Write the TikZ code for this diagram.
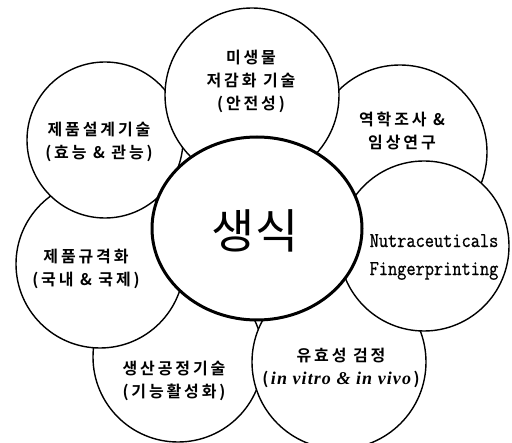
\documentclass[tikz,border=0pt]{standalone}
\usepackage{fontspec}
\usetikzlibrary{shapes.geometric}
\newfontfamily\krb[LetterSpace=18,BoldFont={Noto Sans CJK KR Bold}]{Noto Sans CJK KR}
\newfontfamily\krc{Noto Sans CJK KR}
\newfontfamily\nutra[FakeStretch=0.85,FakeBold=0.8]{Latin Modern Mono}
\newfontfamily\itl[LetterSpace=6]{Liberation Serif}
\begin{document}
\begin{tikzpicture}[x=1pt,y=-1pt,
  petal/.style={circle, draw, fill=white, line width=1.4pt, inner sep=0pt, minimum size=#1},
  core/.style={ellipse, draw, fill=white, line width=3pt, inner sep=0pt},
  lbl/.style={align=center, inner sep=0pt, font=\krb\bfseries\fontsize{16}{23}\selectfont},
  nlbl/.style={align=center, inner sep=0pt, font=\nutra\fontsize{21}{28}\selectfont}]
\useasboundingbox (0,0) rectangle (512,443);
\fill[white] (0,0) rectangle (512,443);
% petals, bottom-most first
\node[petal=170pt] (prod)  at (178,357) {};
\node[petal=174pt] (eff)   at (339,362) {};
\node[petal=174pt] (epi)   at (400,152) {};
\node[petal=170pt] (nutra) at (424,246) {};
\node[petal=168pt] (std)   at (100,264) {};
\node[petal=156pt] (design) at (105,140) {};
\node[petal=174pt] (micro) at (252,95) {};
\node[core, minimum width=210pt, minimum height=183pt] (center) at (257,228.5) {};
% labels
\node[lbl] (tmicro) at (251,81) {미생물\\저감화 기술\\(안전성)};
\node[lbl] (tepi) at (402,131) {역학조사 \&\\임상연구};
\node[nlbl] (tnutra) at (434,257) {Nutraceuticals\\Fingerprinting};
\node[lbl] (teff) at (341,368) {유효성 검정\\(\,{\itl\bfseries\itshape\fontsize{18}{23}\selectfont in vitro \& in vivo}\,)};
\node[lbl] (tprod) at (174,381) {생산공정기술\\(기능활성화)};
\node[lbl] (tstd) at (86,269) {제품규격화\\(국내 \& 국제)};
\node[lbl] (tdesign) at (99,142) {제품설계기술\\(효능 \& 관능)};
\node[inner sep=0pt, font=\krc\fontsize{47}{50}\selectfont] (tcenter) at (255,231) {생식};
\end{tikzpicture}
\end{document}
